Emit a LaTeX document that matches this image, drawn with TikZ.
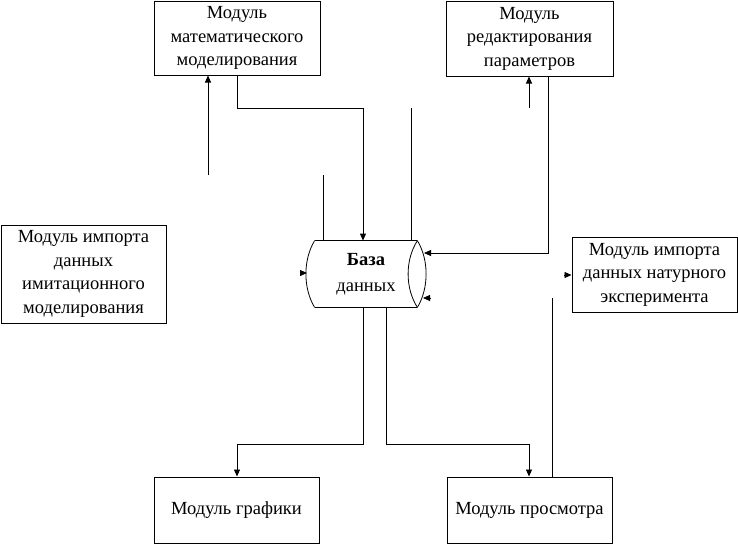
\documentclass[tikz,border=0pt]{standalone}
\usepackage{fontspec}
\setmainfont{Liberation Serif}
\usetikzlibrary{arrows.meta}
\begin{document}
\begin{tikzpicture}[x=1pt,y=-1pt,
  box/.style={draw,line width=1pt,align=center,inner sep=0pt,font=\fontsize{18.5}{23.5}\selectfont},
  arr/.style={-{Triangle[length=7pt,width=6pt]}},
  every path/.style={line width=0.8pt}]
\useasboundingbox (0,0) rectangle (738,544);
\node[box,minimum width=166,minimum height=74] (mm) at (237,38) {Модуль\\математического\\моделирования};
\node[box,minimum width=167,minimum height=75] (er) at (529.5,38.5) {Модуль\\редактирования\\параметров};
\node[box,minimum width=165,minimum height=98] (im) at (83.5,274) {Модуль импорта\\данных\\имитационного\\моделирования};
\node[box,minimum width=165,minimum height=75] (ne) at (654.5,274.5) {Модуль импорта\\данных натурного\\эксперимента};
\node[box,minimum width=165,minimum height=66] (gr) at (236.5,510) {Модуль графики};
\node[box,minimum width=165,minimum height=66] (pr) at (529.5,510) {Модуль просмотра};
% database cylinder
\node[align=center,inner sep=0pt,minimum width=102,minimum height=66,font=\fontsize{18.5}{26}\selectfont] (db) at (366,274) {\textbf{База}\\данных};
\draw[line width=1pt] (db.north west) -- (db.north east);
\draw[line width=1.6pt] (db.south west) -- (db.south east);
\draw (db.north west) .. controls (303,260) and (303,288) .. (db.south west);
\draw (db.north east) .. controls (405,260) and (405,288) .. (db.south east);
\draw (db.north east) .. controls (429,260) and (429,288) .. (db.south east);
% connectors
\coordinate (f1) at (208,175);
\draw[arr] (f1) -- (f1 |- mm.south);
\coordinate (j1) at (363,108);
\draw[arr] (mm.south) |- (j1) -- (j1 |- db.north);
\coordinate (f2) at (323,175);
\draw (f2) -- (f2 |- db.north);
\coordinate (f3) at (411,108);
\draw (f3) -- (f3 |- db.north);
\coordinate (f4) at (529,108);
\draw[arr] (f4) -- (f4 |- er.south);
\coordinate (j2) at (548,253);
\coordinate (d1) at (424,253);
\draw[arr] (er.south -| j2) -- (j2) -- (d1);
\coordinate (f6) at (564,275);
\draw[arr] (f6) -- (f6 -| ne.west);
\coordinate (f7) at (431,298);
\coordinate (d2) at (423,298);
\draw[arr] (f7) -- (d2);
\coordinate (f8) at (300,273);
\coordinate (d3) at (307,273);
\draw[arr] (f8) -- (d3);
\coordinate (f5) at (552,298);
\draw (f5) -- (f5 |- pr.north);
\coordinate (j3) at (237,444);
\draw[arr] ([xshift=-3pt]db.south) |- (j3) -- (j3 |- gr.north);
\coordinate (j4) at (529,444);
\draw[arr] ([xshift=20pt]db.south) |- (j4) -- (j4 |- pr.north);
\end{tikzpicture}
\end{document}
